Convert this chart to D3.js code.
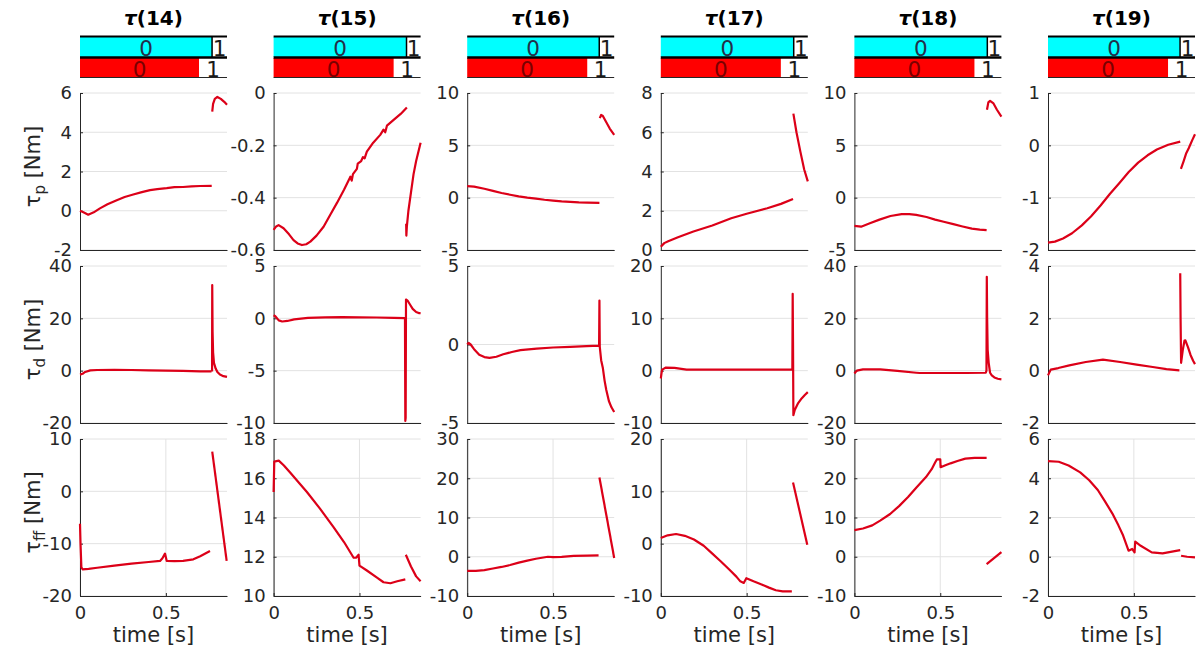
<!DOCTYPE html>
<html><head><meta charset="utf-8">
<script src="https://cdn.jsdelivr.net/npm/d3@7/dist/d3.min.js"></script>
<style>body{margin:0;background:#fff}svg{display:block}</style>
</head><body>
<svg id="c" width="1200" height="652"></svg>
<script>
// ---------------- data ----------------
const joints = ["14", "15", "16", "17", "18", "19"];
const timeMax = 0.856;
const xTickValues = [0, 0.5];
const cyanSwitch = [0.769, 0.774, 0.769, 0.774, 0.774, 0.769];
const redSwitch = [0.693, 0.699, 0.699, 0.699, 0.699, 0.699];
const rowSymbols = ["p", "d", "ff"];

const yDomP = [[-2, 6], [-0.6, 0], [-5, 10], [0, 8], [-5, 10], [-2, 1]];
const yDomD = [[-20, 40], [-10, 5], [-5, 5], [-10, 20], [-20, 40], [-2, 4]];
const yDomFF = [[-20, 10], [10, 18], [-10, 30], [-10, 20], [-10, 30], [-2, 6]];
const yTicksP = [[-2, 0, 2, 4, 6], [-0.6, -0.4, -0.2, 0], [-5, 0, 5, 10], [0, 2, 4, 6, 8], [-5, 0, 5, 10], [-2, -1, 0, 1]];
const yTicksD = [[-20, 0, 20, 40], [-10, -5, 0, 5], [-5, 0, 5], [-10, 0, 10, 20], [-20, 0, 20, 40], [-2, 0, 2, 4]];
const yTicksFF = [[-20, -10, 0, 10], [10, 12, 14, 16, 18], [-10, 0, 10, 20, 30], [-10, 0, 10, 20], [-10, 0, 10, 20, 30], [-2, 0, 2, 4, 6]];

// each series: list of segments of [time, value]
const p14 = [
  [[0,0],[0.02,-0.08],[0.048,-0.2],[0.08,-0.08],[0.116,0.12],[0.16,0.33],[0.214,0.54],[0.26,0.7],[0.31,0.83],[0.36,0.95],[0.408,1.05],[0.45,1.1],[0.505,1.15],[0.55,1.2],[0.6,1.21],[0.65,1.24],[0.7,1.26],[0.767,1.27]],
  [[0.770,5.05],[0.775,5.45],[0.785,5.7],[0.8,5.8],[0.82,5.7],[0.84,5.55],[0.856,5.4]]
];
const p15 = [
  [[0,-0.523],[0.015,-0.51],[0.029,-0.505],[0.058,-0.517],[0.09,-0.54],[0.116,-0.562],[0.14,-0.575],[0.165,-0.581],[0.19,-0.578],[0.214,-0.568],[0.25,-0.545],[0.291,-0.511],[0.33,-0.465],[0.369,-0.42],[0.41,-0.37],[0.44,-0.33],[0.447,-0.32],[0.455,-0.335],[0.462,-0.31],[0.485,-0.29],[0.49,-0.27],[0.51,-0.26],[0.52,-0.245],[0.53,-0.25],[0.543,-0.224],[0.58,-0.19],[0.621,-0.16],[0.64,-0.14],[0.65,-0.15],[0.66,-0.125],[0.699,-0.103],[0.74,-0.08],[0.776,-0.055]],
  [[0.772,-0.5],[0.773,-0.545],[0.776,-0.51],[0.785,-0.45],[0.8,-0.38],[0.815,-0.31],[0.83,-0.26],[0.845,-0.22],[0.856,-0.19]]
];
const p16 = [
  [[0,1.1],[0.04,1.05],[0.1,0.85],[0.15,0.65],[0.2,0.45],[0.25,0.28],[0.3,0.12],[0.35,0],[0.4,-0.1],[0.45,-0.2],[0.5,-0.28],[0.55,-0.35],[0.6,-0.4],[0.65,-0.45],[0.7,-0.48],[0.77,-0.5]],
  [[0.772,7.6],[0.78,7.9],[0.79,7.8],[0.81,7.2],[0.83,6.6],[0.856,6.0]]
];
const p17 = [
  [[0,0.17],[0.02,0.35],[0.043,0.45],[0.1,0.65],[0.19,0.94],[0.3,1.25],[0.41,1.62],[0.5,1.85],[0.62,2.13],[0.7,2.35],[0.77,2.6]],
  [[0.772,6.95],[0.79,6.0],[0.813,5.0],[0.835,4.1],[0.856,3.5]]
];
const p18 = [
  [[0,-2.7],[0.039,-2.77],[0.09,-2.45],[0.146,-2.1],[0.21,-1.75],[0.275,-1.58],[0.32,-1.58],[0.36,-1.65],[0.42,-1.85],[0.47,-2.1],[0.52,-2.3],[0.576,-2.53],[0.63,-2.75],[0.684,-2.96],[0.73,-3.05],[0.77,-3.1]],
  [[0.772,8.4],[0.78,9.1],[0.79,9.25],[0.81,9.0],[0.83,8.4],[0.856,7.75]]
];
const p19 = [
  [[0,-1.86],[0.04,-1.84],[0.0875,-1.78],[0.14,-1.68],[0.197,-1.53],[0.25,-1.36],[0.306,-1.15],[0.36,-0.93],[0.416,-0.72],[0.47,-0.51],[0.525,-0.33],[0.58,-0.19],[0.634,-0.08],[0.7,0.01],[0.77,0.07]],
  [[0.774,-0.45],[0.79,-0.3],[0.805,-0.15],[0.82,-0.05],[0.84,0.1],[0.856,0.21]]
];

const d14 = [
  [[0,-1.5],[0.015,-1.2],[0.03,-0.5],[0.06,0.1],[0.1,0.25],[0.2,0.3],[0.3,0.25],[0.4,0.1],[0.5,0],[0.6,-0.1],[0.7,-0.25],[0.766,-0.3]],
  [[0.769,-0.3],[0.770,32.7],[0.772,15],[0.775,7],[0.78,3],[0.79,0.8],[0.8,-0.5],[0.815,-1.5],[0.835,-2.1],[0.856,-2.4]]
];
const d15 = [
  [[0,0.3],[0.01,0.2],[0.03,-0.2],[0.05,-0.3],[0.08,-0.25],[0.12,-0.1],[0.2,0.05],[0.3,0.1],[0.4,0.12],[0.5,0.1],[0.6,0.08],[0.7,0.05],[0.765,0.02],[0.767,-9.8],[0.769,-9.5],[0.771,1.8],[0.78,1.7],[0.795,1.3],[0.81,0.9],[0.83,0.6],[0.845,0.5],[0.856,0.5]]
];
const d16 = [
  [[0,0],[0.008,0.1],[0.02,0],[0.04,-0.3],[0.07,-0.65],[0.1,-0.8],[0.13,-0.85],[0.17,-0.78],[0.21,-0.62],[0.26,-0.48],[0.31,-0.36],[0.405,-0.26],[0.5,-0.19],[0.6,-0.15],[0.695,-0.1],[0.768,-0.07],[0.77,2.8],[0.771,1.2],[0.772,-0.15],[0.78,-1.0],[0.79,-1.5],[0.8,-2.3],[0.81,-2.9],[0.825,-3.6],[0.84,-4.0],[0.856,-4.3]]
];
const d17 = [
  [[0,-1.5],[0.004,-0.5],[0.008,0.2],[0.03,0.6],[0.08,0.55],[0.15,0.2],[0.35,0.2],[0.55,0.2],[0.766,0.2],[0.768,14.7],[0.77,5],[0.772,-8.5],[0.78,-7.5],[0.8,-6.2],[0.82,-5.3],[0.84,-4.6],[0.856,-4.1]]
];
const d18 = [
  [[0,-1.1],[0.014,0],[0.05,0.5],[0.15,0.5],[0.25,-0.1],[0.36,-0.8],[0.38,-0.9],[0.5,-0.9],[0.65,-0.9],[0.765,-0.8],[0.769,0],[0.771,35.9],[0.773,20],[0.776,8],[0.782,3],[0.79,-0.8],[0.8,-1.8],[0.815,-2.6],[0.835,-3.1],[0.856,-3.3]]
];
const d19 = [
  [[0,-0.18],[0.016,0.04],[0.06,0.1],[0.124,0.2],[0.22,0.33],[0.32,0.42],[0.42,0.33],[0.516,0.23],[0.61,0.14],[0.69,0.06],[0.765,0.01]],
  [[0.77,3.72],[0.772,2.0],[0.775,0.3],[0.785,0.8],[0.795,1.15],[0.8,1.16],[0.815,0.9],[0.83,0.6],[0.845,0.38],[0.856,0.25]]
];

const ff14 = [
  [[0,-6.2],[0.003,-10],[0.008,-14.5],[0.015,-14.9],[0.05,-14.8],[0.1,-14.6],[0.2,-14.2],[0.3,-13.8],[0.4,-13.5],[0.466,-13.3],[0.48,-12.8],[0.495,-11.9],[0.505,-13.3],[0.55,-13.35],[0.6,-13.3],[0.66,-13.0],[0.7,-12.4],[0.757,-11.4]],
  [[0.77,7.6],[0.854,-13.3]]
];
const ff15 = [
  [[0,15.3],[0.004,16.85],[0.03,16.9],[0.06,16.65],[0.1,16.25],[0.15,15.75],[0.194,15.3],[0.27,14.45],[0.35,13.5],[0.41,12.75],[0.466,11.95],[0.48,11.95],[0.495,12.1],[0.5,11.55],[0.543,11.3],[0.6,10.95],[0.64,10.7],[0.68,10.65],[0.72,10.75],[0.767,10.85]],
  [[0.77,12.1],[0.8,11.5],[0.83,11.0],[0.856,10.75]]
];
const ff16 = [
  [[0,-3.6],[0.05,-3.6],[0.1,-3.4],[0.15,-3.0],[0.2,-2.6],[0.25,-2.1],[0.3,-1.5],[0.35,-1.0],[0.4,-0.5],[0.47,0],[0.5,-0.1],[0.55,-0.05],[0.62,0.2],[0.7,0.3],[0.765,0.35]],
  [[0.77,20.2],[0.856,-0.3]]
];
const ff17 = [
  [[0,1.08],[0.04,1.6],[0.089,1.85],[0.14,1.5],[0.193,0.8],[0.25,-0.4],[0.297,-1.8],[0.35,-3.4],[0.4,-5.0],[0.44,-6.3],[0.463,-7.2],[0.483,-7.5],[0.498,-6.6],[0.54,-7.2],[0.587,-7.8],[0.63,-8.4],[0.67,-8.9],[0.71,-9.1],[0.763,-9.1]],
  [[0.77,11.7],[0.853,-0.2]]
];
const ff18 = [
  [[0,6.8],[0.05,7.2],[0.104,8.0],[0.15,9.2],[0.208,10.9],[0.26,12.9],[0.3125,15.2],[0.36,17.6],[0.417,20.3],[0.45,22.3],[0.47,24.0],[0.48,24.8],[0.5,24.8],[0.502,22.8],[0.53,23.3],[0.56,23.8],[0.6,24.4],[0.646,25.0],[0.7,25.2],[0.77,25.2]],
  [[0.77,-1.9],[0.856,1.2]]
];
const ff19 = [
  [[0,4.87],[0.0625,4.84],[0.12,4.65],[0.1875,4.3],[0.24,3.9],[0.29,3.4],[0.33,2.85],[0.375,2.2],[0.41,1.6],[0.4375,1.08],[0.469,0.31],[0.49,0.4],[0.504,0.22],[0.508,0.77],[0.54,0.56],[0.604,0.22],[0.667,0.17],[0.73,0.27],[0.77,0.34]],
  [[0.775,0.05],[0.81,0.0],[0.856,-0.03]]
];

// ---------------- drawing ----------------
const rowsSeries = [[p14,p15,p16,p17,p18,p19],[d14,d15,d16,d17,d18,d19],[ff14,ff15,ff16,ff17,ff18,ff19]];
const rowsDom = [yDomP, yDomD, yDomFF];
const rowsTicks = [yTicksP, yTicksD, yTicksFF];

const FONT = "'DejaVu Sans', sans-serif";
const AX = "#262626";
const svg = d3.select("#c");
const colLeft = d3.scaleLinear().domain([0, 5]).range([80, 1048]);
const plotW = 147, plotH = 157;
const rowTop = [93, 266, 439];
const x = d3.scaleLinear().domain([0, timeMax]).range([0, plotW]);

joints.forEach((j, c) => {
  const left = colLeft(c);
  // title
  const t = svg.append("text")
    .attr("x", left + plotW / 2).attr("y", 25)
    .attr("text-anchor", "middle")
    .attr("font-family", FONT).attr("font-weight", "bold").attr("font-size", 20)
    .attr("fill", "#000");
  t.append("tspan").attr("font-style", "italic").text("τ");
  t.append("tspan").text("(" + j + ")");

  // status bars
  const b = svg.append("g").attr("transform", `translate(${left},36)`);
  const cx = x(cyanSwitch[c]), rx = x(redSwitch[c]);
  b.append("rect").attr("x", 0).attr("y", 1).attr("width", cx).attr("height", 20).attr("fill", "#00ffff");
  b.append("rect").attr("x", 0).attr("y", 22).attr("width", rx).attr("height", 19.5).attr("fill", "#ff0000");
  b.append("line").attr("x1", 0).attr("x2", plotW).attr("y1", 0.5).attr("y2", 0.5).attr("stroke", "#000").attr("stroke-width", 2);
  b.append("line").attr("x1", 0).attr("x2", plotW).attr("y1", 21.5).attr("y2", 21.5).attr("stroke", "#000").attr("stroke-width", 2.5);
  b.append("line").attr("x1", 0).attr("x2", plotW).attr("y1", 41.5).attr("y2", 41.5).attr("stroke", AX).attr("stroke-width", 1);
  b.append("line").attr("x1", cx).attr("x2", cx).attr("y1", 1).attr("y2", 21).attr("stroke", "#000").attr("stroke-width", 1.5);
  const lab = (xx, yy, txt, col) => b.append("text").attr("x", xx).attr("y", yy)
    .attr("text-anchor", "middle").attr("font-family", FONT).attr("font-size", 21.5)
    .attr("fill", col).text(txt);
  lab(cx / 2, 20, "0", "#23304a");
  lab((cx + plotW) / 2, 20, "1", "#1a1a1a");
  lab(rx / 2, 41, "0", "#7a0000");
  lab((rx + plotW) / 2, 41, "1", "#1a1a1a");

  rowSymbols.forEach((sym, r) => {
    const top = rowTop[r];
    const g = svg.append("g").attr("transform", `translate(${left},${top})`);
    const y = d3.scaleLinear().domain(rowsDom[r][c]).range([plotH, 0]);
    const ticks = rowsTicks[r][c];
    // grid
    g.selectAll(".hg").data(ticks).enter().append("line")
      .attr("x1", 0).attr("x2", plotW).attr("y1", d => y(d)).attr("y2", d => y(d))
      .attr("stroke", "#e2e2e2").attr("stroke-width", 1);
    if (r === 2) {
      g.selectAll(".vg").data(xTickValues).enter().append("line")
        .attr("x1", d => x(d)).attr("x2", d => x(d)).attr("y1", 0).attr("y2", plotH)
        .attr("stroke", "#e2e2e2").attr("stroke-width", 1);
    }
    // axes
    const ya = g.append("g").call(d3.axisLeft(y).tickValues(ticks).tickSizeInner(-3).tickSizeOuter(0).tickPadding(8).tickFormat(d => String(d)));
    const xa = g.append("g").attr("transform", `translate(0,${plotH})`)
      .call(d3.axisBottom(x).tickValues(r === 2 ? xTickValues : []).tickSizeInner(-3).tickSizeOuter(0).tickPadding(10).tickFormat(d => String(d)));
    [ya, xa].forEach(a => {
      a.selectAll("path,line").attr("stroke", AX).attr("stroke-width", 1);
      a.selectAll("text").attr("font-family", FONT).attr("font-size", 18).attr("fill", AX);
    });
    // series
    const line = d3.line().x(d => x(d[0])).y(d => y(d[1]));
    g.selectAll(".seg").data(rowsSeries[r][c]).enter().append("path")
      .attr("d", line).attr("fill", "none").attr("stroke", "#dc0018")
      .attr("stroke-width", 2.2).attr("stroke-linejoin", "round");

    // y label
    if (c === 0) {
      const yl = svg.append("text")
        .attr("transform", `translate(40,${top + plotH / 2 - 5}) rotate(-90)`)
        .attr("text-anchor", "middle").attr("font-family", FONT).attr("font-size", 21).attr("fill", AX);
      yl.append("tspan").text("τ");
      yl.append("tspan").attr("font-size", 15).attr("dy", 5).text(sym);
      yl.append("tspan").attr("dy", -5).text(" [Nm]");
    }
    if (r === 2) {
      svg.append("text").attr("x", left + plotW / 2).attr("y", 642)
        .attr("text-anchor", "middle").attr("font-family", FONT).attr("font-size", 21).attr("fill", AX)
        .text("time [s]");
    }
  });
});
</script>
</body></html>
